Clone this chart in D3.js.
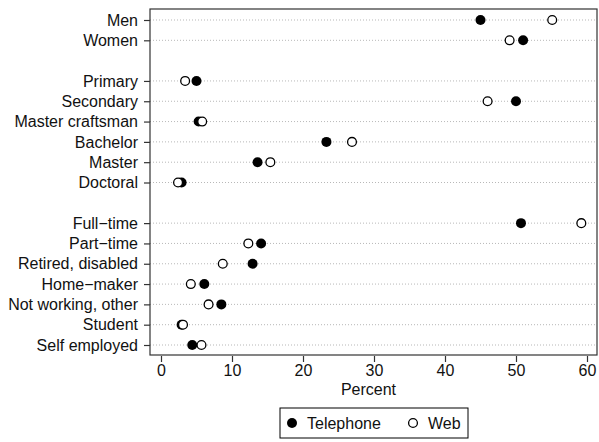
<!DOCTYPE html>
<html>
<head>
<meta charset="utf-8">
<script src="https://cdn.jsdelivr.net/npm/d3@7"></script>
<style>
  body { margin: 0; background: #fff; }
  text { font-family: "Liberation Sans", Arial, sans-serif; }
</style>
</head>
<body>
<div id="container"></div>
<script>
/* DATA */
// empty strings are the blank gap rows between the groups
const categories = ["Men", "Women", "",
  "Primary", "Secondary", "Master craftsman", "Bachelor", "Master", "Doctoral", " ",
  "Full\u2212time", "Part\u2212time", "Retired, disabled", "Home\u2212maker",
  "Not working, other", "Student", "Self employed"];
const telephone = [45.0, 51.0, null,
  5.0, 50.0, 5.3, 23.3, 13.6, 2.9, null,
  50.7, 14.1, 12.9, 6.1, 8.5, 2.9, 4.4];
const web = [55.1, 49.1, null,
  3.4, 46.0, 5.8, 26.9, 15.4, 2.4, null,
  59.2, 12.3, 8.7, 4.2, 6.7, 3.1, 5.7];
const xTicks = [0, 10, 20, 30, 40, 50, 60];
const series = ["Telephone", "Web"];

/* CONSTANTS */
const W = 599, H = 442;
const frame = { left: 150, right: 597, top: 9, bottom: 355 };
const fs = 16;

const svg = d3.select("#container").append("svg")
  .attr("width", W).attr("height", H);

const x = d3.scaleLinear().domain([0, 60]).range([161, 587]);
const y = d3.scalePoint().domain(categories).range([20, 345]);

const rows = categories.map((c, i) => ({ cat: c, tel: telephone[i], web: web[i] }))
  .filter(d => d.cat.trim() !== "");

// dotted grid lines
svg.append("g").selectAll("line")
  .data(rows)
  .join("line")
  .attr("x1", frame.left).attr("x2", frame.right)
  .attr("y1", d => y(d.cat)).attr("y2", d => y(d.cat))
  .attr("stroke", "#999")
  .attr("stroke-width", 0.7)
  .attr("stroke-dasharray", "1,2");

// frame
svg.append("rect")
  .attr("x", frame.left).attr("y", frame.top)
  .attr("width", frame.right - frame.left)
  .attr("height", frame.bottom - frame.top)
  .attr("fill", "none")
  .attr("stroke", "#333")
  .attr("stroke-width", 1.2);

// y axis labels
const yAxis = d3.axisLeft(y)
  .tickValues(rows.map(d => d.cat))
  .tickSize(6)
  .tickPadding(6);
svg.append("g")
  .attr("transform", `translate(${frame.left},0)`)
  .call(yAxis)
  .call(g => g.select(".domain").remove())
  .call(g => g.selectAll("line").attr("stroke", "#333").attr("stroke-width", 1.2))
  .call(g => g.selectAll("text").attr("font-size", fs).attr("fill", "#111")
    .style("font-family", "'Liberation Sans', Arial, sans-serif"));

// x axis
const xAxis = d3.axisBottom(x).tickValues(xTicks).tickSize(6).tickPadding(3);
svg.append("g")
  .attr("transform", `translate(0,${frame.bottom + 1})`)
  .call(xAxis)
  .call(g => g.select(".domain").remove())
  .call(g => g.selectAll("line").attr("stroke", "#333").attr("stroke-width", 1.2))
  .call(g => g.selectAll("text").attr("font-size", fs).attr("fill", "#111")
    .style("font-family", "'Liberation Sans', Arial, sans-serif"));

svg.append("text")
  .attr("x", (frame.left + frame.right) / 2 - 5)
  .attr("y", 395)
  .attr("text-anchor", "middle")
  .attr("font-size", fs)
  .attr("fill", "#111")
  .text("Percent");

// points: telephone filled, web hollow on top
svg.append("g").selectAll("circle")
  .data(rows)
  .join("circle")
  .attr("cx", d => x(d.tel)).attr("cy", d => y(d.cat))
  .attr("r", 5)
  .attr("fill", "#000");

svg.append("g").selectAll("circle")
  .data(rows)
  .join("circle")
  .attr("cx", d => x(d.web)).attr("cy", d => y(d.cat))
  .attr("r", 4.4)
  .attr("fill", "#fff")
  .attr("stroke", "#000")
  .attr("stroke-width", 1.3);

// legend
const legend = svg.append("g");
legend.append("rect")
  .attr("x", 280).attr("y", 408)
  .attr("width", 188).attr("height", 30)
  .attr("fill", "#fff")
  .attr("stroke", "#000")
  .attr("stroke-width", 1);

const legX = [292, 413];
series.forEach((s, i) => {
  legend.append("circle")
    .attr("cx", legX[i]).attr("cy", 423)
    .attr("r", i === 0 ? 5 : 4.4)
    .attr("fill", i === 0 ? "#000" : "#fff")
    .attr("stroke", i === 0 ? "none" : "#000")
    .attr("stroke-width", 1.3);
  legend.append("text")
    .attr("x", legX[i] + 15).attr("y", 429)
    .attr("font-size", fs)
    .attr("fill", "#111")
    .text(s);
});
</script>
</body>
</html>
